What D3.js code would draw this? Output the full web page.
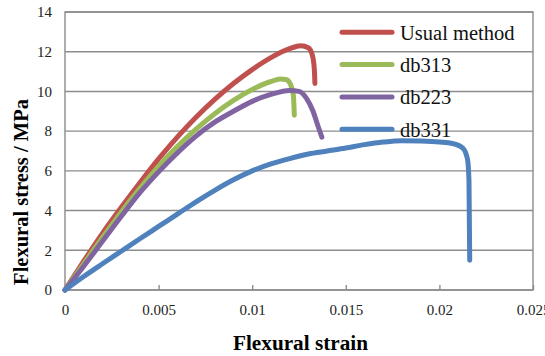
<!DOCTYPE html>
<html>
<head>
<meta charset="utf-8">
<script src="https://cdn.jsdelivr.net/npm/d3@7"></script>
<style>
  body { margin: 0; background: #fff; }
  svg { display: block; }
</style>
</head>
<body>
<script>
// series: [flexural strain, flexural stress (MPa)]
var usualMethod = [[0,0],[0.001,1.45],[0.002,2.85],[0.003,4.15],[0.004,5.4],[0.005,6.6],[0.006,7.7],
    [0.007,8.7],[0.008,9.6],[0.009,10.4],[0.010,11.1],[0.011,11.7],[0.012,12.15],[0.0126,12.3],
    [0.0130,12.2],[0.01322,11.8],[0.01332,11.1],[0.01335,10.4]];
var db313 = [[0,0],[0.001,1.32],[0.002,2.64],[0.003,3.92],[0.004,5.12],[0.005,6.22],[0.006,7.22],
    [0.007,8.1],[0.008,8.88],[0.009,9.55],[0.010,10.1],[0.011,10.5],[0.0115,10.62],[0.0118,10.6],
    [0.01205,10.35],[0.0122,9.8],[0.01225,8.8]];
var db223 = [[0,0],[0.001,1.2],[0.002,2.45],[0.003,3.7],[0.004,4.9],[0.005,5.95],[0.006,6.9],
    [0.007,7.75],[0.008,8.45],[0.009,9.0],[0.010,9.5],[0.011,9.85],[0.012,10.05],[0.0125,10.0],
    [0.0129,9.65],[0.01325,9.0],[0.0135,8.3],[0.01372,7.7]];
var db331 = [[0,0],[0.001,0.68],[0.002,1.32],[0.003,1.95],[0.004,2.58],[0.005,3.2],[0.006,3.82],
    [0.007,4.44],[0.008,5.02],[0.009,5.55],[0.010,6.0],[0.011,6.35],[0.012,6.62],[0.013,6.85],
    [0.014,7.0],[0.015,7.15],[0.016,7.32],[0.017,7.45],[0.018,7.52],[0.019,7.5],[0.020,7.45],
    [0.0207,7.38],[0.02125,7.15],[0.0215,6.6],[0.02158,5.5],[0.02162,1.5]];

var seriesNames = ["Usual method", "db313", "db223", "db331"];
var seriesData = [usualMethod, db313, db223, db331];
var seriesColors = ["#C0504D", "#9BBB59", "#8064A2", "#4F81BD"];

var xTicks = [0, 0.005, 0.01, 0.015, 0.02, 0.025];
var xTickLabels = ["0", "0.005", "0.01", "0.015", "0.02", "0.025"];
var yTicks = [0, 2, 4, 6, 8, 10, 12, 14];

var serif = "'Liberation Serif', 'Times New Roman', serif";

var width = 545, height = 356,
    margin = {top: 12, right: 12, bottom: 66, left: 65},
    innerW = width - margin.left - margin.right,
    innerH = height - margin.top - margin.bottom;

var svg = d3.select("body").append("svg")
    .attr("width", width)
    .attr("height", height);

var g = svg.append("g")
    .attr("transform", "translate(" + margin.left + "," + margin.top + ")");

var x = d3.scaleLinear().domain([0, 0.025]).range([0, innerW]);
var y = d3.scaleLinear().domain([0, 14]).range([innerH, 0]);

//horizontal gridlines
g.selectAll(".grid")
    .data(yTicks)
    .enter()
    .append("line")
    .attr("class", "grid")
    .attr("x1", 0)
    .attr("x2", innerW)
    .attr("y1", function(d){ return y(d); })
    .attr("y2", function(d){ return y(d); })
    .attr("stroke", "#8c8c8c")
    .attr("stroke-width", 1.4);

//plot frame
g.append("rect")
    .attr("width", innerW)
    .attr("height", innerH)
    .attr("fill", "none")
    .attr("stroke", "#8c8c8c")
    .attr("stroke-width", 1.4);

//y axis
var yAxis = g.append("g")
    .call(d3.axisLeft(y).tickValues(yTicks).tickSize(0).tickPadding(13))
    .attr("font-family", serif)
    .attr("font-size", 15);
yAxis.select(".domain").remove();
yAxis.selectAll("text").style("fill", "#222");

//x axis with inward ticks
var xAxis = g.append("g")
    .attr("transform", "translate(0," + innerH + ")")
    .call(d3.axisBottom(x).tickValues(xTicks).tickSizeInner(-5).tickSizeOuter(0)
        .tickPadding(14).tickFormat(function(d, i){ return xTickLabels[i]; }))
    .attr("font-family", serif)
    .attr("font-size", 15);
xAxis.select(".domain").remove();
xAxis.selectAll("line").attr("stroke", "#8c8c8c").attr("stroke-width", 1.4);
xAxis.selectAll("text").style("fill", "#222");

//curves
var line = d3.line()
    .x(function(d){ return x(d[0]); })
    .y(function(d){ return y(d[1]); })
    .curve(d3.curveMonotoneX);

g.selectAll(".curve")
    .data(seriesData)
    .enter()
    .append("path")
    .attr("class", "curve")
    .attr("d", line)
    .attr("fill", "none")
    .attr("stroke", function(d, i){ return seriesColors[i]; })
    .attr("stroke-width", 5)
    .attr("stroke-linecap", "round")
    .attr("stroke-linejoin", "round");

//legend
var legend = svg.append("g")
    .attr("transform", "translate(340,32.3)");
var items = legend.selectAll(".item")
    .data(seriesNames)
    .enter()
    .append("g")
    .attr("class", "item")
    .attr("transform", function(d, i){ return "translate(0," + (i * 32.3) + ")"; });
items.append("line")
    .attr("x1", 2).attr("x2", 52)
    .attr("stroke", function(d, i){ return seriesColors[i]; })
    .attr("stroke-width", 5)
    .attr("stroke-linecap", "round");
items.append("text")
    .attr("x", 60)
    .attr("y", 7.3)
    .style("font-family", serif)
    .style("font-size", "20.5px")
    .style("fill", "#111")
    .text(function(d){ return d; });

//axis titles
svg.append("text")
    .attr("x", 300.5)
    .attr("y", 350)
    .attr("text-anchor", "middle")
    .attr("textLength", 135)
    .attr("lengthAdjust", "spacingAndGlyphs")
    .style("font-family", serif)
    .style("font-weight", "bold")
    .style("font-size", "20.5px")
    .text("Flexural strain");

svg.append("text")
    .attr("transform", "translate(27.5,192) rotate(-90)")
    .attr("text-anchor", "middle")
    .style("font-family", serif)
    .style("font-weight", "bold")
    .style("font-size", "20.5px")
    .text("Flexural stress / MPa");
</script>
</body>
</html>
